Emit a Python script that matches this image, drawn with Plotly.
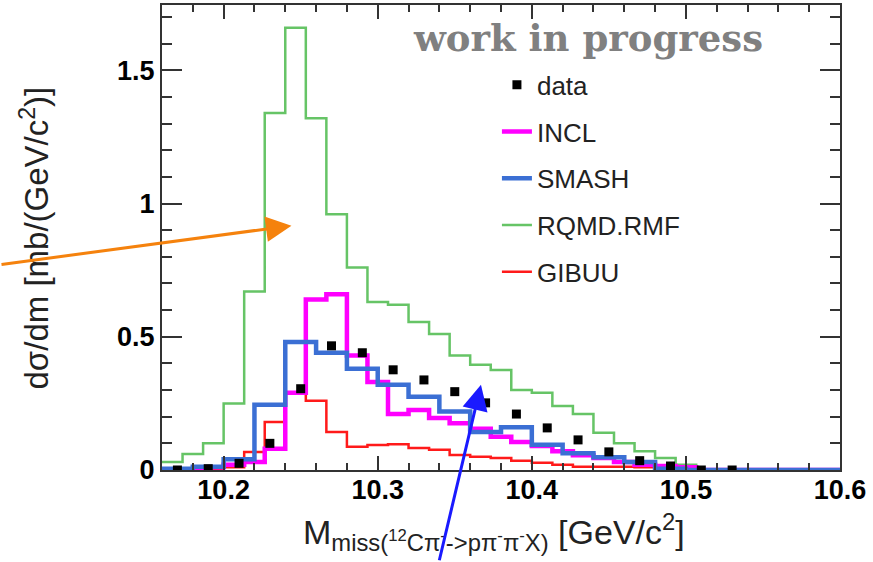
import numpy as np
import plotly.graph_objects as go

# binning of the model histograms (fine bins) and SMASH (0.02 bins)
fine_lo, fine_hi, fine_n = 10.16, 10.60, 33
smash_lo, smash_hi, smash_n = 10.16, 10.60, 22

incl = [0.0, 0.0, 0.01, 0.02, 0.03, 0.08, 0.29, 0.64, 0.66, 0.43, 0.33, 0.21,
        0.225, 0.195, 0.175, 0.155, 0.125, 0.105, 0.09, 0.07, 0.055, 0.045,
        0.03, 0.02, 0.015, 0.01, 0.0, 0.0, 0.0, 0.0, 0.0, 0.0, 0.0]
rqmd = [0.03, 0.06, 0.10, 0.25, 0.67, 1.34, 1.66, 1.32, 0.96, 0.76, 0.63, 0.62,
        0.555, 0.51, 0.43, 0.395, 0.375, 0.30, 0.29, 0.24, 0.21, 0.14,
        0.10, 0.07, 0.045, 0.02, 0.0, 0.0, 0.0, 0.0, 0.0, 0.0, 0.0]
gibuu = [0.0, 0.0, 0.0, 0.01, 0.068, 0.18, 0.29, 0.26, 0.143, 0.087, 0.094, 0.097,
         0.083, 0.076, 0.056, 0.05, 0.045, 0.035, 0.027, 0.02, 0.012, 0.012,
         0.012, 0.01, 0.005, 0.0, 0.0, 0.0, 0.0, 0.0, 0.0, 0.0, 0.0]
smash = [0.005, 0.012, 0.04, 0.245, 0.48, 0.44, 0.38, 0.32, 0.275, 0.22, 0.143,
         0.16, 0.095, 0.063, 0.048, 0.03, 0.005, 0.0, 0.0, 0.0, 0.0, 0.0]

data_x = [10.17, 10.19, 10.21, 10.23, 10.25, 10.27, 10.29, 10.31, 10.33, 10.35,
          10.37, 10.39, 10.41, 10.43, 10.45, 10.47, 10.49, 10.51, 10.53]
data_y = [0.0, 0.005, 0.025, 0.10, 0.305, 0.466, 0.44, 0.376, 0.338, 0.294,
          0.252, 0.21, 0.158, 0.113, 0.068, 0.035, 0.015, 0.0, 0.0]

x_ticks = [10.2, 10.3, 10.4, 10.5, 10.6]
y_ticks = [0, 0.5, 1, 1.5]
y_labels = ["0", "0.5", "1", "1.5"]


def steps(lo, hi, n, vals):
    edges = list(np.linspace(lo, hi, n + 1))
    return edges, list(vals) + [vals[-1]]


def hist_trace(name, lo, hi, n, vals, color, width, rank):
    xs, ys = steps(lo, hi, n, vals)
    return go.Scatter(x=xs, y=ys, mode="lines", name=name, line_shape="hv",
                      line=dict(color=color, width=width), legendrank=rank,
                      legendgroup=name)


fig = go.Figure()
fig.add_trace(hist_trace("RQMD.RMF", fine_lo, fine_hi, fine_n, rqmd, "#66c466", 2.5, 4))
fig.add_trace(hist_trace("GIBUU", fine_lo, fine_hi, fine_n, gibuu, "#ff1a1a", 2.5, 5))
fig.add_trace(hist_trace("INCL", fine_lo, fine_hi, fine_n, incl, "#ff00ff", 4.5, 2))
fig.add_trace(hist_trace("SMASH", smash_lo, smash_hi, smash_n, smash, "#3b6fd4", 4.5, 3))
fig.add_trace(go.Scatter(x=data_x, y=data_y, mode="markers", name="data",
                         marker=dict(symbol="square", size=9, color="black"),
                         legendrank=1, legendgroup="data"))

tickfont = dict(family="Liberation Sans", size=27, color="black", weight="bold")

fig.update_xaxes(range=[10.16, 10.6], tickvals=x_ticks, ticks="inside", ticklen=14,
                 tickwidth=1.5, tickcolor="#333", showline=True, linewidth=2,
                 linecolor="#333", mirror="ticks", showgrid=False, zeroline=False,
                 tickfont=tickfont, automargin=False, ticklabelstandoff=-5,
                 minor=dict(dtick=0.02, tick0=10.0, ticks="inside", ticklen=7,
                            tickcolor="#333", showgrid=False))
fig.update_yaxes(range=[0, 1.745], tickvals=y_ticks, ticktext=y_labels, ticks="inside",
                 ticklen=20, tickwidth=1.5, tickcolor="#333", showline=True, linewidth=2,
                 linecolor="#333", mirror="ticks", showgrid=False, zeroline=False,
                 tickfont=tickfont, automargin=False,
                 minor=dict(dtick=0.1, tick0=0, ticks="inside", ticklen=10,
                            tickcolor="#333", showgrid=False))

# axis titles
fig.add_annotation(text="M<sub>miss(<sup>12</sup>Cπ<sup>-</sup>->pπ<sup>-</sup>π<sup>-</sup>X)</sub> [GeV/c<sup>2</sup>]",
                   xref="paper", yref="paper", x=0.489, y=-0.134,
                   xanchor="center", yanchor="middle", showarrow=False,
                   font=dict(family="Liberation Sans", size=34, color="#222"))
fig.add_annotation(text="dσ/dm [mb/(GeV/c<sup>2</sup>)]", textangle=-90,
                   xref="paper", yref="paper", x=-0.188, y=0.499,
                   xanchor="center", yanchor="middle", showarrow=False,
                   font=dict(family="Liberation Sans", size=33, color="#222"))

fig.add_annotation(text="<b>work in progress</b>", xref="paper", yref="paper",
                   x=0.628, y=0.929, xanchor="center", yanchor="middle", showarrow=False,
                   font=dict(family="DejaVu Serif", size=37, color="#808080"))

# arrows
fig.add_annotation(x=10.244, y=0.917, ax=-292, ay=39, text="", showarrow=True,
                   arrowhead=2, arrowsize=1.7, arrowwidth=3, arrowcolor="#f5820d")
fig.add_annotation(x=10.367, y=0.32, ax=-42, ay=177, text="", showarrow=True,
                   arrowhead=2, arrowsize=1.7, arrowwidth=3, arrowcolor="#1a1aff")

fig.update_layout(
    width=873, height=562,
    margin=dict(l=162, r=33, t=5, b=92),
    paper_bgcolor="white", plot_bgcolor="white",
    showlegend=True,
    legend=dict(x=0.494, y=0.879, xanchor="left", yanchor="top",
                bgcolor="rgba(0,0,0,0)", font=dict(family="Liberation Sans", size=26, color="#222"),
                tracegroupgap=10, traceorder="grouped"),
)

fig.write_html("out.html", config={"displayModeBar": False},
               post_script="document.body.style.margin='0';")
